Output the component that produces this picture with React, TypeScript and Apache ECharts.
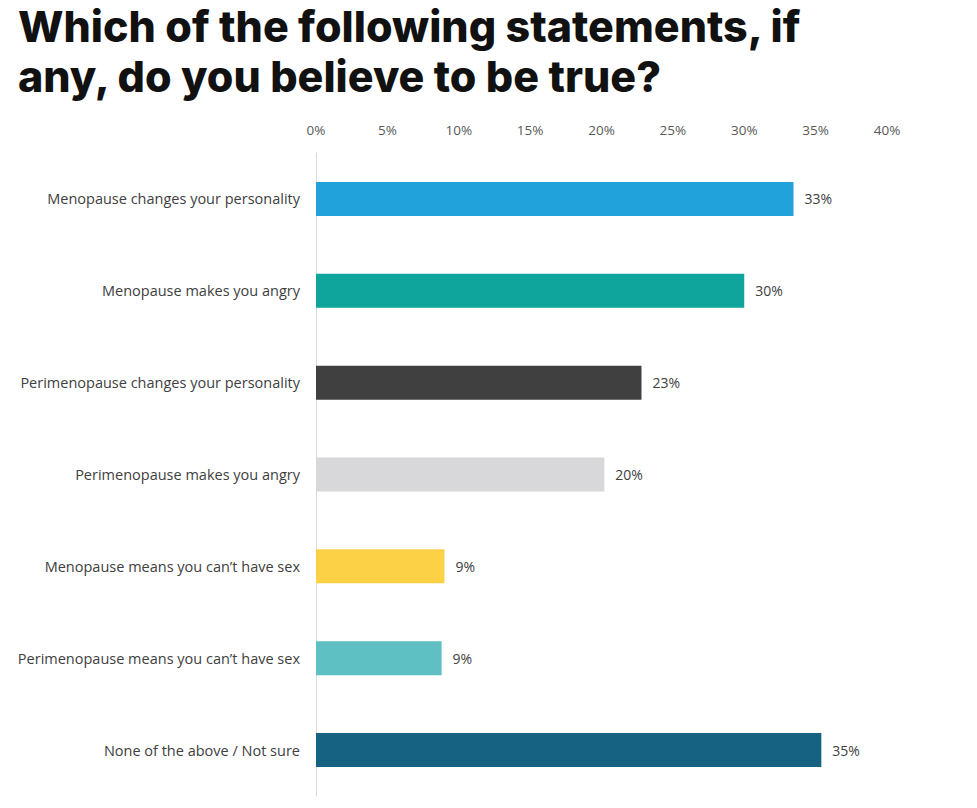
import React, { useEffect, useRef } from "react";
import * as echarts from "echarts";

const categories = [
  "Menopause changes your personality",
  "Menopause makes you angry",
  "Perimenopause changes your personality",
  "Perimenopause makes you angry",
  "Menopause means you can\u2019t have sex",
  "Perimenopause means you can\u2019t have sex",
  "None of the above / Not sure",
];
const values = [33.45, 30.0, 22.8, 20.2, 9.0, 8.8, 35.4];
const colors = ["#22A2DB", "#10A59C", "#404040", "#D8D8DA", "#FDD146", "#5FC0C3", "#156283"];
const titleText = "Which of the following statements, if\nany, do you believe to be true?";

export default function App() {
  const ref = useRef<HTMLDivElement>(null);
  useEffect(() => {
    if (!ref.current) return;
    const chart = echarts.init(ref.current, undefined, { renderer: "svg" });
    chart.setOption({
      animation: false,
      backgroundColor: "#ffffff",
      title: {
        text: titleText,
        left: 13,
        top: -4,
        textStyle: {
          fontFamily: "Inter",
          fontWeight: 800,
          fontSize: 43,
          lineHeight: 50,
          color: "#111111",
        },
      },
      grid: { left: 316, right: 90, top: 153, bottom: 12, containLabel: false },
      xAxis: {
        type: "value",
        position: "top",
        min: 0,
        max: 40,
        interval: 5,
        axisLine: { show: false },
        axisTick: { show: false },
        splitLine: { show: false },
        axisLabel: {
          formatter: "{value}%",
          color: "#595959",
          fontFamily: "Open Sans",
          fontSize: 13.5,
          margin: 16,
        },
      },
      yAxis: {
        type: "category",
        data: categories,
        inverse: true,
        axisLine: { show: true, lineStyle: { color: "#D9D9D9", width: 1 } },
        axisTick: { show: false },
        axisLabel: {
          color: "#404040",
          fontFamily: "Open Sans",
          fontSize: 14.5,
          margin: 16,
        },
      },
      series: [
        {
          type: "bar",
          data: values.map((v, i) => ({ value: v, itemStyle: { color: colors[i] } })),
          barCategoryGap: "63%",
          label: {
            show: true,
            position: "right",
            distance: 11,
            color: "#404040",
            fontFamily: "Open Sans",
            fontSize: 14,
            formatter: (p: any) => Math.round(p.value) + "%",
          },
        },
      ],
    });
    return () => chart.dispose();
  }, []);
  return <div ref={ref} style={{ position: "fixed", left: 0, top: 0, width: 977, height: 808 }} />;
}
